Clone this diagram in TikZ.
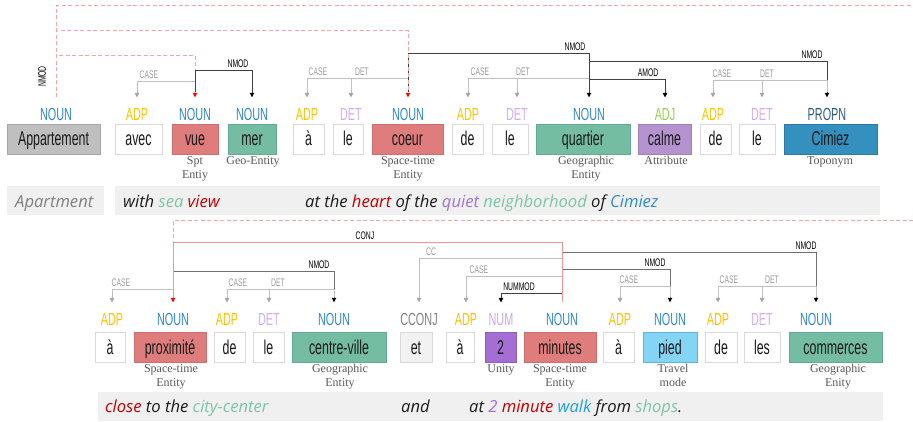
\documentclass[tikz,border=0pt]{standalone}
\usepackage{fontspec}
\setmainfont{Liberation Serif}
\newfontfamily\condf[FakeStretch=0.62]{Liberation Sans}
\newfontfamily\glossf{Open Sans}
\usetikzlibrary{arrows.meta}
\definecolor{nounc}{HTML}{2F86D2}
\definecolor{adpc}{HTML}{FFC000}
\definecolor{detc}{HTML}{D4ADF0}
\definecolor{adjc}{HTML}{92D050}
\definecolor{propnc}{HTML}{2E5C80}
\definecolor{cconjc}{HTML}{808080}
\definecolor{numc}{HTML}{C9A8EC}
\definecolor{appf}{HTML}{BFBFBF}\definecolor{appd}{HTML}{A6A6A6}
\definecolor{whd}{HTML}{D9D9D9}
\definecolor{salf}{HTML}{DF7C7C}\definecolor{sald}{HTML}{CF6E6E}
\definecolor{teaf}{HTML}{74BDA3}\definecolor{tead}{HTML}{62AA90}
\definecolor{calf}{HTML}{B593CE}\definecolor{cald}{HTML}{A080BA}
\definecolor{cimf}{HTML}{3490BE}\definecolor{cimd}{HTML}{2A7BA4}
\definecolor{numf}{HTML}{A46ED4}\definecolor{numd}{HTML}{8F5CC0}
\definecolor{piedf}{HTML}{84D4F6}\definecolor{piedd}{HTML}{5DB4DC}
\definecolor{etf}{HTML}{F2F2F2}
\definecolor{wordc}{HTML}{1A1A1A}
\definecolor{annc}{HTML}{595959}
\definecolor{glossbg}{HTML}{F0F0F0}
\definecolor{gtext}{HTML}{1A1A1A}
\definecolor{ggray}{HTML}{7F7F7F}
\definecolor{gteal}{HTML}{7CC6A7}
\definecolor{gred}{HTML}{C00000}
\definecolor{gpurp}{HTML}{A070D8}
\definecolor{gblue}{HTML}{2E8BD0}
\definecolor{gwalk}{HTML}{1EA0E0}
\definecolor{gline}{HTML}{C0C0C0}
\definecolor{garr}{HTML}{A6A6A6}
\definecolor{glab}{HTML}{9A9A9A}
\definecolor{kline}{HTML}{404040}
\definecolor{mline}{HTML}{707070}
\definecolor{rdashc}{HTML}{F5A5A5}
\definecolor{conjc}{HTML}{F09494}
\newcommand\dep[4]{\draw[#1] ([yshift=5pt]#2.north) -- (#2.north |- 0,#4) -| (#3.north);}
\newcommand\wb[7]{\node[wbox, fill=#5, draw=#6, minimum width=#3] (#1) at (#2,#4) {#7};}
\begin{document}
\begin{tikzpicture}[x=1pt,y=-1pt,
  wbox/.style={line width=0.6pt, minimum height=30pt, inner sep=0pt, text height=17pt, text depth=4pt,
    font=\condf\fontsize{20}{20}\selectfont, text=wordc},
  poslab/.style={anchor=base, inner sep=0pt, outer ysep=10.5pt, font=\condf\fontsize{17.5}{17.5}\selectfont},
  lab/.style={anchor=south, inner sep=0pt, yshift=2.5pt, font=\condf\fontsize{11}{11}\selectfont},
  ann/.style={anchor=north, inner sep=0pt, align=center, text=annc, font=\fontsize{12}{14}\selectfont},
  gloss/.style={anchor=base west, inner sep=0pt, text=gtext, font=\glossf\itshape\fontsize{16.6}{16.6}\selectfont},
  tipg/.style={-{Triangle[width=4.5pt,length=4.5pt,color=garr]}},
  tipk/.style={-{Triangle[width=4.5pt,length=4.5pt,color=black]}},
  tipr/.style={-{Triangle[width=4.5pt,length=4.5pt,color=red]}},
  gdep/.style={draw=gline, line width=0.9pt, tipg},
  kdep/.style={draw=kline, line width=0.9pt, tipk},
  mdep/.style={draw=mline, line width=0.9pt, tipk},
  rdash/.style={draw=rdashc, line width=0.9pt, dash pattern=on 4pt off 2.5pt},
  conj/.style={draw=conjc, line width=1pt, tipr}]
\useasboundingbox (0,0) rectangle (913,421);
% gloss bars
\fill[glossbg] (7,186) rectangle (104,215);
\fill[glossbg] (115,186) rectangle (880,215);
\fill[glossbg] (98,392) rectangle (883,421);
% ---------- row 1 boxes
\wb{wApp}{53.5}{93pt}{139}{appf}{appd}{Appartement}
\wb{wavec}{138.5}{47pt}{139}{white}{whd}{avec}
\wb{wvue}{195}{46pt}{139}{salf}{sald}{vue}
\wb{wmer}{252}{48pt}{139}{teaf}{tead}{mer}
\wb{wa1}{308.5}{31pt}{139}{white}{whd}{à}
\wb{wle1}{348}{30pt}{139}{white}{whd}{le}
\wb{wcoeur}{407.5}{71pt}{139}{salf}{sald}{coeur}
\wb{wde1}{467.5}{31pt}{139}{white}{whd}{de}
\wb{wle2}{510}{36pt}{139}{white}{whd}{le}
\wb{wquart}{583}{94pt}{139}{teaf}{tead}{quartier}
\wb{wcalme}{664.5}{53pt}{139}{calf}{cald}{calme}
\wb{wde2}{715.5}{31pt}{139}{white}{whd}{de}
\wb{wle3}{757}{36pt}{139}{white}{whd}{le}
\wb{wcim}{830.5}{93pt}{139}{cimf}{cimd}{Cimiez}
% ---------- row 2 boxes
\wb{wa2}{110}{30pt}{347.5}{white}{whd}{à}
\wb{wprox}{170}{72pt}{347.5}{salf}{sald}{proximité}
\wb{wde3}{229.5}{31pt}{347.5}{white}{whd}{de}
\wb{wle4}{268.5}{31pt}{347.5}{white}{whd}{le}
\wb{wcv}{339}{94pt}{347.5}{teaf}{tead}{centre-ville}
\wb{wet}{416}{32pt}{347.5}{etf}{whd}{et}
\wb{wa3}{460}{28pt}{347.5}{white}{whd}{à}
\wb{wnum}{500.5}{31pt}{347.5}{numf}{numd}{2}
\wb{wmin}{560}{72pt}{347.5}{salf}{sald}{minutes}
\wb{wa4}{618.5}{31pt}{347.5}{white}{whd}{à}
\wb{wpied}{670}{54pt}{347.5}{piedf}{piedd}{pied}
\wb{wde4}{721}{32pt}{347.5}{white}{whd}{de}
\wb{wles}{762}{36pt}{347.5}{white}{whd}{les}
\wb{wcom}{835.5}{93pt}{347.5}{teaf}{tead}{commerces}
% ---------- POS row 1
\node[poslab,text=nounc] (pApp) at (56,120) {NOUN};
\node[poslab,text=adpc] (pavec) at (137,120) {ADP};
\node[poslab,text=nounc] (pvue) at (195,120) {NOUN};
\node[poslab,text=nounc] (pmer) at (252,120) {NOUN};
\node[poslab,text=adpc] (pa1) at (307,120) {ADP};
\node[poslab,text=detc] (ple1) at (351,120) {DET};
\node[poslab,text=nounc] (pcoeur) at (408,120) {NOUN};
\node[poslab,text=adpc] (pde1) at (468,120) {ADP};
\node[poslab,text=detc] (ple2) at (517,120) {DET};
\node[poslab,text=nounc] (pquart) at (589,120) {NOUN};
\node[poslab,text=adjc] (pcalme) at (665,120) {ADJ};
\node[poslab,text=adpc] (pde2) at (713,120) {ADP};
\node[poslab,text=detc] (ple3) at (762,120) {DET};
\node[poslab,text=propnc] (pcim) at (827,120) {PROPN};
% ---------- POS row 2
\node[poslab,text=adpc] (pa2) at (112,325) {ADP};
\node[poslab,text=nounc] (pprox) at (173,325) {NOUN};
\node[poslab,text=adpc] (pde3) at (227,325) {ADP};
\node[poslab,text=detc] (ple4) at (269,325) {DET};
\node[poslab,text=nounc] (pcv) at (334,325) {NOUN};
\node[poslab,text=cconjc] (pet) at (419,325) {CCONJ};
\node[poslab,text=adpc] (pa3) at (466,325) {ADP};
\node[poslab,text=numc] (pnum) at (501,325) {NUM};
\node[poslab,text=nounc] (pmin) at (562,325) {NOUN};
\node[poslab,text=adpc] (pa4) at (620,325) {ADP};
\node[poslab,text=nounc] (ppied) at (670,325) {NOUN};
\node[poslab,text=adpc] (pde4) at (718,325) {ADP};
\node[poslab,text=detc] (ples) at (762,325) {DET};
\node[poslab,text=nounc] (pcom) at (816,325) {NOUN};
% ---------- annotations
\node[ann] (avue) at (195,156) {Spt\\Entiy};
\node[ann] (amer) at (253,156) {Geo-Entity};
\node[ann] (acoeur) at (408,156) {Space-time\\Entity};
\node[ann] (aquart) at (586,156) {Geographic\\Entity};
\node[ann] (acalme) at (666,156) {Attribute};
\node[ann] (acim) at (830,156) {Toponym};
\node[ann] (aprox) at (171,364) {Space-time\\Entity};
\node[ann] (acv) at (340,364) {Geographic\\Entity};
\node[ann] (anum) at (501,364) {Unity};
\node[ann] (amin) at (560,364) {Space-time\\Entity};
\node[ann] (apied) at (673,364) {Travel\\mode};
\node[ann] (acom) at (838,364) {Geographic\\Enity};
% ---------- glosses
\node[gloss,text=ggray] (gApp) at (15,207) {Apartment};
\node[gloss] (g1a) at (123,207) {with \textcolor{gteal}{sea} \textcolor{gred}{view}};
\node[gloss] (g1b) at (305,207) {at the \textcolor{gred}{heart} of the \textcolor{gpurp}{quiet} \textcolor{gteal}{neighborhood} of \textcolor{gblue}{Cimiez}};
\node[gloss] (g2a) at (105,412) {\textcolor{gred}{close} to the \textcolor{gteal}{city-center}};
\node[gloss] (g2b) at (401,412) {and};
\node[gloss] (g2c) at (469,412) {at \textcolor{gpurp}{2} \textcolor{gred}{minute} \textcolor{gwalk}{walk} from \textcolor{gteal}{shops}.};
% ---------- row 1 arcs
\coordinate (edgeA) at (913,5.5);
\coordinate (edgeB) at (913,220);
\draw[rdash] (pApp.north) |- (edgeA);
\draw[rdash,tipr] (pApp.north) -- (pApp.north |- 0,55) -| (pvue.north);
\dep{gdep}{pvue}{pavec}{81}
\dep{kdep}{pvue}{pmer}{70}
\dep{gdep}{pcoeur}{pa1}{78}
\dep{gdep}{pcoeur}{ple1}{78}
\dep{kdep}{pcoeur}{pquart}{53}
\draw[rdash,tipr] (pApp.north) -- (pApp.north |- 0,30.5) -| (pcoeur.north);
\dep{gdep}{pquart}{pde1}{78}
\dep{gdep}{pquart}{ple2}{78}
\dep{kdep}{pquart}{pcalme}{79}
\dep{kdep}{pquart}{pcim}{61}
\dep{gdep}{pcim}{pde2}{80}
\dep{gdep}{pcim}{ple3}{80}
% row 1 labels
\node[lab,text=black,rotate=90,anchor=center,yshift=0pt] (L0) at (42,79) {NMOD};
\node[lab,text=glab] (L1) at (149,81) {CASE};
\node[lab,text=black] (L2) at (238,70) {NMOD};
\node[lab,text=glab] (L3) at (318,78) {CASE};
\node[lab,text=glab] (L4) at (362,78) {DET};
\node[lab,text=black] (L5) at (575,53) {NMOD};
\node[lab,text=glab] (L6) at (480,78) {CASE};
\node[lab,text=glab] (L7) at (523,78) {DET};
\node[lab,text=black] (L8) at (648,79) {AMOD};
\node[lab,text=black] (L9) at (812,61) {NMOD};
\node[lab,text=glab] (L10) at (722,80) {CASE};
\node[lab,text=glab] (L11) at (767,80) {DET};
% ---------- row 2 arcs
\draw[rdash] (edgeB) -| (pprox.north);
\dep{gdep}{pprox}{pa2}{289}
\dep{mdep}{pprox}{pcv}{271}
\dep{gdep}{pcv}{pde3}{289}
\dep{gdep}{pcv}{ple4}{289}
\dep{gdep}{pmin}{pet}{258}
\dep{gdep}{pmin}{pa3}{276}
\dep{kdep}{pmin}{pnum}{293}
\dep{mdep}{pmin}{ppied}{269}
\dep{mdep}{pmin}{pcom}{252}
\dep{gdep}{ppied}{pa4}{286}
\dep{gdep}{pcom}{pde4}{286}
\dep{gdep}{pcom}{ples}{286}
\draw[conj] (pmin.north) -- (pmin.north |- 0,242) -| (pprox.north);
% row 2 labels
\node[lab,text=black] (L12) at (365,242) {CONJ};
\node[lab,text=glab] (L13) at (121,289) {CASE};
\node[lab,text=black] (L14) at (319,271) {NMOD};
\node[lab,text=glab] (L15) at (238,289) {CASE};
\node[lab,text=glab] (L16) at (278,289) {DET};
\node[lab,text=glab] (L17) at (431,258) {CC};
\node[lab,text=glab] (L18) at (479,276) {CASE};
\node[lab,text=black] (L19) at (519,293) {NUMMOD};
\node[lab,text=black] (L20) at (655,269) {NMOD};
\node[lab,text=black] (L21) at (806,252) {NMOD};
\node[lab,text=glab] (L22) at (629,286) {CASE};
\node[lab,text=glab] (L23) at (729,286) {CASE};
\node[lab,text=glab] (L24) at (772,286) {DET};
\end{tikzpicture}
\end{document}
